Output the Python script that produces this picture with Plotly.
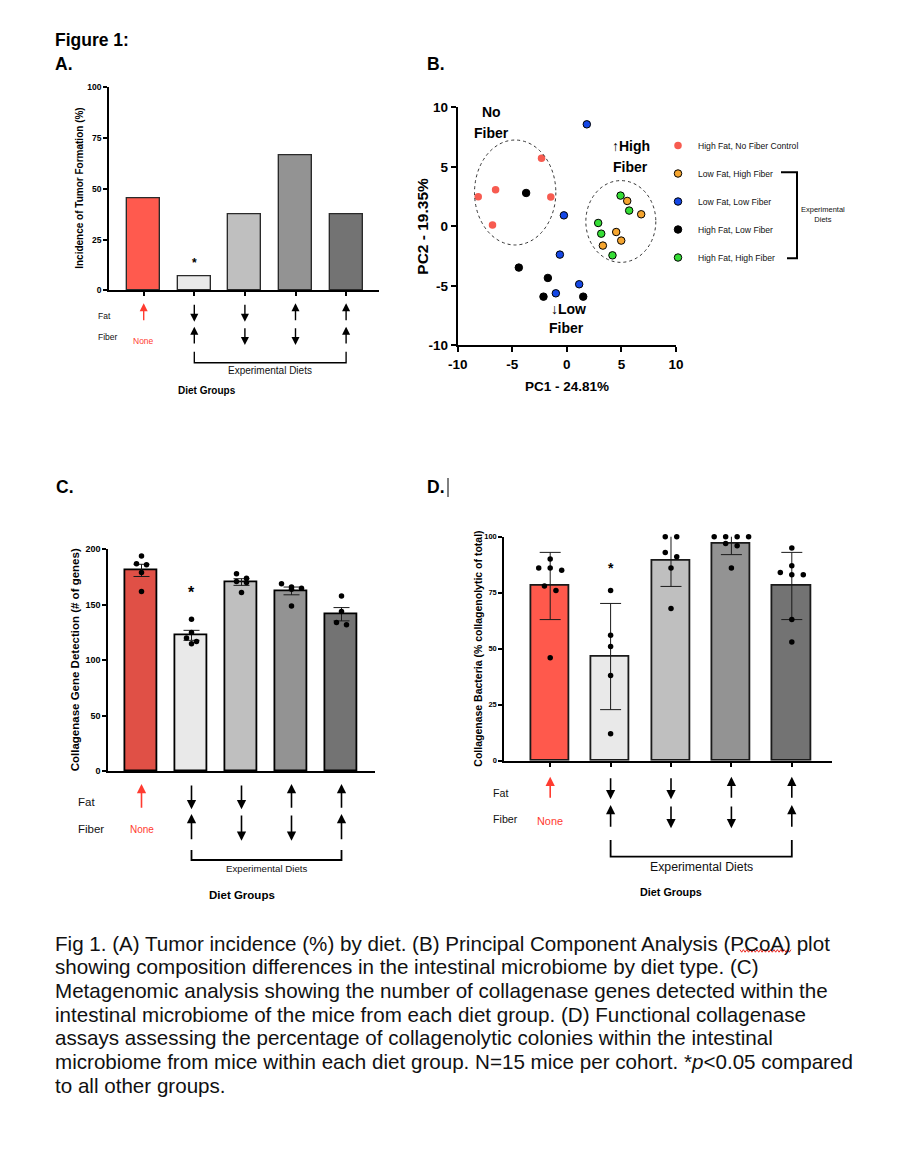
import plotly.graph_objects as go

W, H = 912, 1168


def PX(x):
    return x / W


def PY(y):
    return 1 - y / H


SANS = "Liberation Sans, Arial, Helvetica, sans-serif"

# ---------------- data ----------------
diet_groups = ["High Fat, No Fiber Control", "Low Fat, High Fiber", "Low Fat, Low Fiber",
               "High Fat, Low Fiber", "High Fat, High Fiber"]
fat_direction = ["up", "down", "down", "up", "up"]
fiber_direction = ["none", "up", "down", "down", "up"]

# Panel A: tumour incidence (%)
tumor_incidence = [45.5, 6.7, 37.5, 66.7, 37.5]

# Panel B: PCoA coordinates per diet group
pc1_control = [-8.12, -6.53, -6.81, -2.32, -1.47]
pc2_control = [2.49, 3.08, 0.11, 5.71, 2.46]
pc1_lowfat_highfiber = [5.53, 6.81, 4.52, 4.98, 3.30]
pc2_lowfat_highfiber = [2.13, 1.01, -0.48, -1.20, -1.62]
pc1_lowfat_lowfiber = [1.83, -0.27, -0.64, -1.01, 1.13]
pc2_lowfat_lowfiber = [8.57, 0.92, -2.38, -5.63, -4.87]
pc1_highfat_lowfiber = [-3.73, -4.40, -1.74, -2.14, 1.50]
pc2_highfat_lowfiber = [2.80, -3.47, -4.34, -5.91, -5.91]
pc1_highfat_highfiber = [4.92, 5.71, 2.87, 3.15, 4.18]
pc2_highfat_highfiber = [2.58, 1.32, 0.28, -0.62, -2.44]
pc_ticks = [-10, -5, 0, 5, 10]
pc_ticktext = ["-10", "-5", "0", "5", "10"]

# Panel C: collagenase gene detection (# of genes), mean +/- SEM
gene_means = [181, 122.5, 170.5, 162.5, 141.5]
gene_sem = [5.5, 4.5, 3.0, 3.5, 6.0]
gene_points = [[194, 187, 186, 179, 162],
               [137, 125, 120, 117, 115],
               [178, 174, 171, 170, 161],
               [169, 166, 165, 164, 149],
               [158, 144, 134, 132]]

# Panel D: collagenase bacteria (% collagenolytic of total), mean +/- SD
bact_means = [78, 46.5, 89.5, 97, 78]
bact_sd = [15, 23.7, 11.7, 5, 15]
bact_points = [[90, 86, 86, 85, 78, 76, 46],
               [76, 56, 51, 38, 12],
               [100, 100, 93, 91, 86, 68],
               [100, 100, 100, 100, 97, 96, 86],
               [95, 87, 84, 83, 83, 63, 53]]

# ---------------- styling ----------------
reds = {"A": "#FF5A4E", "C": "#E05046", "D": "#FF594C"}
grays = ["#E9E9E9", "#BFBFBF", "#939393", "#737373"]
pc_colors = ["#F75B50", "#F5A52F", "#1447E6", "#000000", "#35DD35"]


def swarm(values, px_per_unit, thresh_px, step):
    order = sorted(range(len(values)), key=lambda i: -values[i])
    rows = []
    for i in order:
        if rows and (values[rows[-1][0]] - values[i]) * px_per_unit < thresh_px:
            rows[-1].append(i)
        else:
            rows.append([i])
    off = [0.0] * len(values)
    for row in rows:
        n = len(row)
        for k, i in enumerate(row):
            off[i] = (k - (n - 1) / 2) * step
    return off


def ann(text, x, y, xref="paper", yref="paper", xanchor="center", yanchor="middle", **kw):
    d = dict(text=text, x=x, y=y, xref=xref, yref=yref, xanchor=xanchor, yanchor=yanchor,
             showarrow=False)
    d.update(kw)
    return d


fig = go.Figure()
annotations = []
shapes = []

panels = [
    dict(key="A", xa="x", ya="y", left=109, right=379, top=87.3, bottom=290.3, cat0=143.7, sp=50.6,
         yr=[0, 100], ticks=[0, 25, 50, 75, 100], bw=0.65, lw=1.5, bar_line="#2a2a2a",
         tick_size=8.5, title="Incidence of Tumor Formation (%)", title_x=80, title_size=10,
         xticks=True, means=tumor_incidence, err=None, points=None, star_y=14.9, star_size=12,
         fat=(303.3, 321.7), fiber=(326.7, 345), lab_x=96, fat_y=315.7, fib_y=336.7,
         none_y=340.7, lab_size=8.5, none_size=8.5, br=(351.7, 362.7), exp_y=370.7,
         exp_size=10, dg_x=206.7, dg_y=390, dg_size=10, aw=1.4),
    dict(key="C", xa="x3", ya="y3", left=108.3, right=375, top=549.3, bottom=771.3, cat0=141.5, sp=50,
         yr=[0, 200], ticks=[0, 50, 100, 150, 200], bw=0.634, lw=2, bar_line="#000000",
         tick_size=9, title="Collagenase Gene Detection (# of genes)", title_x=75, title_size=11.5,
         xticks=False, means=gene_means, err=gene_sem, cap=8, points=gene_points, dot=5.5,
         pxu=1.11, step=0.2, star_y=164.5, star_size=16,
         fat=(784, 809.3), fiber=(814, 840.7), lab_x=76, fat_y=801.7, fib_y=829.3,
         none_y=829.3, lab_size=11.5, none_size=10, br=(850, 860), exp_y=869,
         exp_size=9.7, dg_x=241.7, dg_y=895, dg_size=11.5, aw=1.6),
    dict(key="D", xa="x4", ya="y4", left=504.3, right=831.7, top=536.7, bottom=760.7, cat0=550.2, sp=60.4,
         yr=[0, 100], ticks=[0, 25, 50, 75, 100], bw=0.634, lw=2, bar_line="#1a1a1a",
         tick_size=7.5, title="Collagenase Bacteria (% collagenolytic of total)", title_x=478,
         title_size=10.5, xticks=True, means=bact_means, err=bact_sd, cap=10.5, points=bact_points,
         dot=5.5, pxu=2.24, step=0.19, star_y=87.4, star_size=14,
         fat=(776.7, 799.3), fiber=(805, 828.3), lab_x=490.7, fat_y=793.3, fib_y=819.3,
         none_y=820.7, lab_size=10.7, none_size=10.9, br=(840, 856.7), exp_y=867.3,
         exp_size=12.3, dg_x=670.7, dg_y=891.7, dg_size=10.8, aw=1.6),
]

cats = list(range(len(diet_groups)))
layout_axes = {}

for p in panels:
    xname = "xaxis" + p["xa"][1:]
    yname = "yaxis" + p["ya"][1:]
    layout_axes[xname] = dict(
        domain=[PX(p["left"]), PX(p["right"])],
        range=[(p["left"] - p["cat0"]) / p["sp"], (p["right"] - p["cat0"]) / p["sp"]],
        anchor=p["ya"], showline=True, linecolor="black", linewidth=p["lw"],
        ticks="outside" if p["xticks"] else "", tickvals=cats, ticklen=4, tickwidth=p["lw"],
        tickcolor="black", showticklabels=False, showgrid=False, zeroline=False, fixedrange=True)
    layout_axes[yname] = dict(
        domain=[PY(p["bottom"]), PY(p["top"])], range=p["yr"], anchor=p["xa"],
        showline=True, linecolor="black", linewidth=p["lw"], ticks="outside",
        tickvals=p["ticks"], ticklen=4, tickwidth=p["lw"], tickcolor="black",
        tickfont=dict(family=SANS, size=p["tick_size"], color="black", weight="bold"),
        showgrid=False, zeroline=False, fixedrange=True)

    colors = [reds[p["key"]]] + grays
    bar = dict(x=cats, y=p["means"], width=p["bw"], xaxis=p["xa"], yaxis=p["ya"],
               marker=dict(color=colors, line=dict(color=p["bar_line"], width=p["lw"] * 0.9)),
               showlegend=False, hoverinfo="skip")
    if p["err"] is not None:
        bar["error_y"] = dict(type="data", array=p["err"], visible=True, color="#1a1a1a",
                              thickness=1, width=p["cap"])
    fig.add_trace(go.Bar(**bar))

    if p["points"] is not None:
        xs, ys = [], []
        for k, vals in enumerate(p["points"]):
            off = swarm(vals, p["pxu"], 5.2, p["step"])
            xs += [k + o for o in off]
            ys += vals
        fig.add_trace(go.Scatter(x=xs, y=ys, mode="markers", xaxis=p["xa"], yaxis=p["ya"],
                                 marker=dict(color="black", size=p["dot"]), showlegend=False,
                                 hoverinfo="skip", cliponaxis=False))

    annotations.append(ann(p["title"], PX(p["title_x"]), PY((p["top"] + p["bottom"]) / 2), textangle=-90,
                           font=dict(family=SANS, size=p["title_size"], color="black", weight="bold")))
    annotations.append(ann("*", 1, p["star_y"], xref=p["xa"], yref=p["ya"],
                           yshift=-p["star_size"] * 0.24,
                           font=dict(family=SANS, size=p["star_size"], color="black", weight="bold")))
    annotations.append(ann("Fat", PX(p["lab_x"]), PY(p["fat_y"]), xanchor="left",
                           font=dict(family=SANS, size=p["lab_size"], color="#111")))
    annotations.append(ann("Fiber", PX(p["lab_x"]), PY(p["fib_y"]), xanchor="left",
                           font=dict(family=SANS, size=p["lab_size"], color="#111")))

    def arrow(k, span, direction, color):
        y0, y1 = span
        if direction == "down":
            head, ay = y1, -(y1 - y0)
        else:
            head, ay = y0, (y1 - y0)
        return dict(x=k, y=PY(head), xref=p["xa"], yref="paper", ax=0, ay=ay, text="",
                    showarrow=True, arrowhead=2, arrowsize=1.15, arrowwidth=p["aw"],
                    arrowcolor=color, standoff=0, startstandoff=0)

    for k in cats:
        col = "#FF3B30" if fiber_direction[k] == "none" else "black"
        annotations.append(arrow(k, p["fat"], fat_direction[k], col))
        if fiber_direction[k] == "none":
            annotations.append(ann("None", k, PY(p["none_y"]), xref=p["xa"],
                                   font=dict(family=SANS, size=p["none_size"], color="#FF3B30")))
        else:
            annotations.append(arrow(k, p["fiber"], fiber_direction[k], "black"))

    b0, b1 = p["br"]
    shapes.append(dict(type="path", xref=p["xa"], yref="paper",
                       path=f"M 1,{PY(b0)} L 1,{PY(b1)} L 4,{PY(b1)} L 4,{PY(b0)}",
                       line=dict(color="black", width=p["lw"] * 0.9)))
    annotations.append(ann("Experimental Diets", 2.5, PY(p["exp_y"]), xref=p["xa"],
                           font=dict(family=SANS, size=p["exp_size"], color="#111")))
    annotations.append(ann("Diet Groups", PX(p["dg_x"]), PY(p["dg_y"]),
                           font=dict(family=SANS, size=p["dg_size"], color="black", weight="bold")))

# ---------------- Panel B ----------------
pc_series = [(pc1_control, pc2_control), (pc1_lowfat_highfiber, pc2_lowfat_highfiber),
             (pc1_lowfat_lowfiber, pc2_lowfat_lowfiber), (pc1_highfat_lowfiber, pc2_highfat_lowfiber),
             (pc1_highfat_highfiber, pc2_highfat_highfiber)]
for i, (name, (p1, p2)) in enumerate(zip(diet_groups, pc_series)):
    fig.add_trace(go.Scatter(x=p1, y=p2, mode="markers", name=name, xaxis="x2", yaxis="y2",
                             legendgroup=f"g{i}",
                             marker=dict(color=pc_colors[i], size=7.5,
                                         line=dict(color="black", width=0 if i == 0 else 1)),
                             hoverinfo="skip", cliponaxis=False))

b_ax = dict(showline=True, linecolor="black", linewidth=2, ticks="outside", ticklen=5, tickwidth=2,
            tickcolor="black", tickvals=pc_ticks, ticktext=pc_ticktext, range=[-10, 10],
            showgrid=False, zeroline=False, fixedrange=True,
            tickfont=dict(family=SANS, size=13.5, color="black", weight="bold"))
layout_axes["xaxis2"] = dict(b_ax, domain=[PX(457.7), PX(676)], anchor="y2")
layout_axes["yaxis2"] = dict(b_ax, domain=[PY(345.3), PY(107.3)], anchor="x2")

shapes.append(dict(type="circle", xref="x2", yref="y2", x0=-8.46, x1=-1.01, y0=-1.57, y1=7.25,
                   line=dict(color="#333", width=1, dash="dot")))
shapes.append(dict(type="circle", xref="x2", yref="y2", x0=1.74, x1=8.15, y0=-3.03, y1=3.84,
                   line=dict(color="#333", width=1, dash="dot")))

bfont = dict(family=SANS, size=14, color="black", weight="bold")
for txt, x, y in [("No", -6.87, 9.64), ("Fiber", -6.87, 7.87), ("\u2191High", 5.86, 6.75),
                  ("Fiber", 5.86, 5.01), ("\u2193Low", 0.15, -6.97), ("Fiber", 0.0, -8.52)]:
    annotations.append(ann(txt, x, y, xref="x2", yref="y2", font=bfont))

annotations.append(ann("PC1 - 24.81%", PX(566.7), PY(386.7),
                       font=dict(family=SANS, size=13.5, color="black", weight="bold")))
annotations.append(ann("PC2 - 19.35%", PX(423), PY(226.7), textangle=-90,
                       font=dict(family=SANS, size=15.5, color="black", weight="bold")))

shapes.append(dict(type="path", xref="paper", yref="paper",
                   path=f"M {PX(781)},{PY(172.3)} L {PX(797)},{PY(172.3)} L {PX(797)},{PY(258.3)} L {PX(787)},{PY(258.3)}",
                   line=dict(color="black", width=2)))
annotations.append(ann("Experimental<br>Diets", PX(823), PY(215), align="center",
                       font=dict(family=SANS, size=7.5, color="#111")))

# ---------------- figure labels & caption ----------------
hfont = dict(family=SANS, size=17.5, color="black", weight="bold")
for txt, x, y in [("Figure 1:", 53, 40), ("A.", 53, 63.5), ("B.", 425, 63.5), ("C.", 54, 487), ("D.", 425, 487)]:
    annotations.append(ann(txt, PX(x), PY(y), xanchor="left", font=hfont))
shapes.append(dict(type="line", xref="paper", yref="paper", x0=PX(448), x1=PX(448), y0=PY(478), y1=PY(497),
                   line=dict(color="black", width=1)))

caption = [
    "Fig 1. (A) Tumor incidence (%) by diet. (B) Principal Component Analysis (PCoA) plot",
    "showing composition differences in the intestinal microbiome by diet type. (C)",
    "Metagenomic analysis showing the number of collagenase genes detected within the",
    "intestinal microbiome of the mice from each diet group. (D) Functional collagenase",
    "assays assessing the percentage of collagenolytic colonies within the intestinal",
    "microbiome from mice within each diet group. N=15 mice per cohort. *<i>p</i><0.05 compared",
    "to all other groups.",
]
for i, line in enumerate(caption):
    annotations.append(ann(line, PX(53), PY(943 + i * 23.7), xanchor="left",
                           font=dict(family=SANS, size=20.6, color="#111")))

# spell-check squiggle under "PCoA"
zig = []
n_zig = 30
for j in range(n_zig + 1):
    xx = 740 + j * (51.0 / n_zig)
    yy = 949.6 if j % 2 == 0 else 952.2
    zig.append(f"{'M' if j == 0 else 'L'} {PX(xx)},{PY(yy)}")
shapes.append(dict(type="path", xref="paper", yref="paper", path=" ".join(zig),
                   line=dict(color="#E8211B", width=1)))

fig.update_layout(
    width=W, height=H, margin=dict(l=0, r=0, t=0, b=0, pad=0, autoexpand=False),
    paper_bgcolor="white", plot_bgcolor="rgba(0,0,0,0)",
    bargap=0, barmode="group",
    annotations=annotations, shapes=shapes,
    showlegend=True,
    legend=dict(x=PX(658), y=PY(131), xanchor="left", yanchor="top", traceorder="grouped",
                tracegroupgap=9, itemwidth=30, bgcolor="rgba(0,0,0,0)",
                font=dict(family=SANS, size=8.6, color="#111")),
    **layout_axes,
)

fig.write_html("out.html", config={"displayModeBar": False},
               post_script="document.body.style.margin='0';document.body.style.overflow='hidden';")
